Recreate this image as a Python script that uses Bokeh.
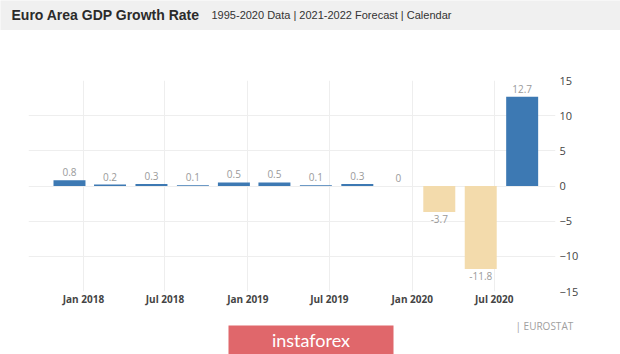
import pandas as pd
from bokeh.plotting import figure
from bokeh.layouts import column
from bokeh.models import (Range1d, FixedTicker, DatetimeTickFormatter,
                          ColumnDataSource)
from bokeh.core.properties import value
from bokeh.embed import file_html
from bokeh.resources import INLINE

# ---------------- data ----------------
quarters = ["2017-12-01", "2018-03-01", "2018-06-01", "2018-09-01",
            "2018-12-01", "2019-03-01", "2019-06-01", "2019-09-01",
            "2019-12-01", "2020-03-01", "2020-06-01", "2020-09-01"]
growth = [0.8, 0.2, 0.3, 0.1, 0.5, 0.5, 0.1, 0.3, 0.0, -3.7, -11.8, 12.7]
value_labels = ["0.8", "0.2", "0.3", "0.1", "0.5", "0.5", "0.1", "0.3",
                "0", "-3.7", "-11.8", "12.7"]
x_tick_dates = ["2018-01-01", "2018-07-01", "2019-01-01", "2019-07-01",
                "2020-01-01", "2020-07-01"]
y_ticks = [-15, -10, -5, 0, 5, 10, 15]
title_text = "Euro Area GDP Growth Rate"
subtitle_text = "1995-2020 Data | 2021-2022 Forecast | Calendar"
source_text = "| EUROSTAT"
watermark_text = "instaforex"

BLUE = "#3d79b3"
BEIGE = "#f3dbac"

dates = pd.to_datetime(quarters)


def strip(height, y0, bg):
    f = figure(width=620, height=height, x_range=Range1d(0, 620),
               y_range=Range1d(y0 + height, y0),
               x_axis_location=None, y_axis_location=None,
               output_backend="svg", toolbar_location=None,
               min_border_left=0, min_border_right=0,
               min_border_top=0, min_border_bottom=0)
    f.frame_align = False
    f.grid.visible = False
    f.outline_line_color = None
    f.background_fill_color = bg
    f.border_fill_color = bg
    return f


# ---------------- header ----------------
header = strip(30, 0, "#f0f0f0")
header.text(x=[11], y=[14.5], text=[title_text], text_font=value("Liberation Sans"),
            text_font_size="14px", text_font_style="bold", text_color="#2b2b2b",
            text_baseline="middle", text_align="left")
header.text(x=[211], y=[14.5], text=[subtitle_text], text_font=value("Liberation Sans"),
            text_font_size="11px", text_color="#333333",
            text_baseline="middle", text_align="left")

# ---------------- chart ----------------
p = figure(width=620, height=285, x_axis_type="datetime",
           x_range=Range1d(pd.Timestamp("2017-09-01"), pd.Timestamp("2020-11-14")),
           y_range=Range1d(-15, 15), y_axis_location="right",
           output_backend="svg", toolbar_location=None,
           min_border_left=28, min_border_right=65,
           min_border_top=50, min_border_bottom=24)
p.frame_align = False
p.outline_line_color = None
p.background_fill_color = "white"
p.border_fill_color = "white"

colors = [BLUE if v >= 0 else BEIGE for v in growth]
src = ColumnDataSource(dict(date=dates, growth=growth, color=colors))
bar_width = pd.Timedelta(days=71).total_seconds() * 1000
p.vbar(x="date", top="growth", bottom=0, width=bar_width,
       fill_color="color", line_color=None, source=src)

pos = ColumnDataSource(dict(date=[d for d, v in zip(dates, growth) if v >= 0],
                            y=[v for v in growth if v >= 0],
                            t=[l for l, v in zip(value_labels, growth) if v >= 0]))
neg = ColumnDataSource(dict(date=[d for d, v in zip(dates, growth) if v < 0],
                            y=[v for v in growth if v < 0],
                            t=[l for l, v in zip(value_labels, growth) if v < 0]))
common = dict(text_font=value("Open Sans"), text_font_size="10px",
              text_color="#9a9a9a", text_align="center")
p.text(x="date", y="y", text="t", source=pos, text_baseline="bottom", y_offset=-4, **common)
p.text(x="date", y="y", text="t", source=neg, text_baseline="top", y_offset=3, **common)

# axes
xa = p.xaxis[0]
xa.ticker = FixedTicker(ticks=[pd.Timestamp(d).value // 10**6 for d in x_tick_dates])
xa.formatter = DatetimeTickFormatter(months="%b %Y", years="%b %Y", days="%b %Y")
xa.axis_line_color = None
xa.major_tick_line_color = None
xa.minor_tick_line_color = None
xa.major_tick_out = 0
xa.major_label_standoff = 0
xa.major_label_text_font = "Open Sans"
xa.major_label_text_font_style = "bold"
xa.major_label_text_font_size = "10px"
xa.major_label_text_color = "#444444"

ya = p.yaxis[0]
ya.ticker = FixedTicker(ticks=y_ticks)
ya.axis_line_color = None
ya.major_tick_line_color = None
ya.minor_tick_line_color = None
ya.major_tick_out = 0
ya.major_label_standoff = 4
ya.major_label_text_font = "Open Sans"
ya.major_label_text_font_size = "11px"
ya.major_label_text_color = "#444444"
ya.major_label_text_align = "left"

p.xgrid.grid_line_color = "#eeeeee"
p.ygrid.grid_line_color = "#eeeeee"

# ---------------- footer ----------------
footer = strip(39, 315, "white")
footer.quad(left=[228], right=[393], top=[325], bottom=[354],
            fill_color="#e0676b", line_color=None)
footer.text(x=[310.5], y=[339], text=[watermark_text], text_font=value("Lato"),
            text_font_size="18px", text_color="white",
            text_align="center", text_baseline="middle")
footer.text(x=[515], y=[325], text=[source_text], text_font=value("Open Sans"),
            text_font_size="10px", text_color="#a0a0a0",
            text_align="left", text_baseline="middle")

layout = column(header, p, footer, spacing=0)
open("out.html", "w").write(file_html(layout, INLINE))
